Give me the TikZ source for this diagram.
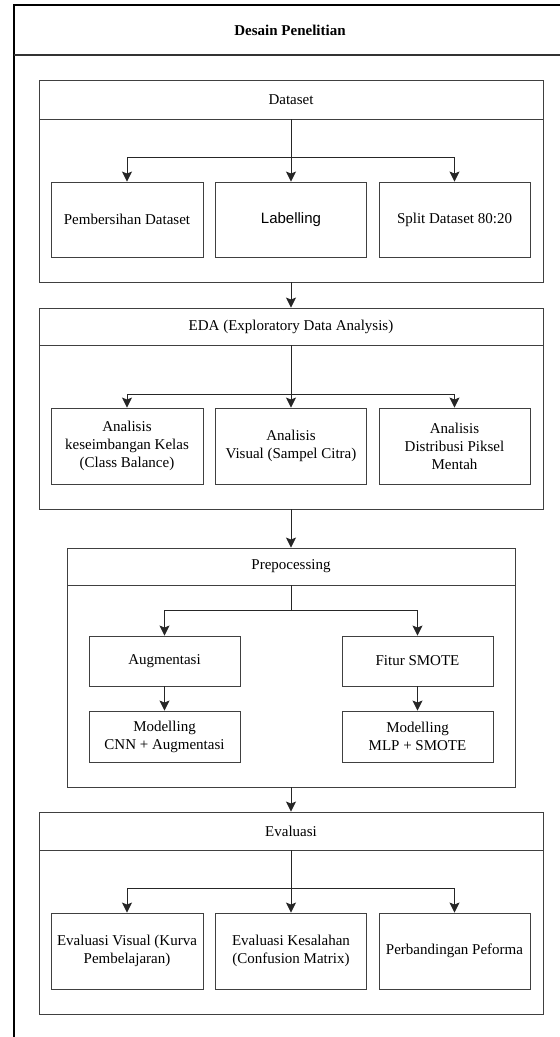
\documentclass[tikz,border=0pt]{standalone}
\usepackage{fontspec}
\setmainfont{Liberation Serif}
\newfontfamily\arialfont{Liberation Sans}
\usetikzlibrary{arrows.meta}
\begin{document}
\begin{tikzpicture}[x=1pt,y=-1pt,
  box/.style={draw=black!75, line width=0.9pt, inner sep=0pt, align=center, font=\fontsize{15}{18}\selectfont},
  arr/.style={draw=black!85, line width=0.9pt, -{Stealth[length=10pt,width=10pt,inset=2pt]}},
  ln/.style={draw=black!85, line width=0.9pt},
  frameline/.style={draw=black, line width=1.2pt}]
\useasboundingbox (0,0) rectangle (560,1037);
% outer frame
\draw[frameline] (560,5) -- (14,5) -- (14,1037);
\draw[frameline, draw=black!80] (14,55) -- (560,55);
\node[font=\fontsize{15}{18}\selectfont\bfseries] (title) at (290,30) {Desain Penelitian};

% Dataset
\node[box, minimum width=504pt, minimum height=39pt] (dsh) at (291,99.5) {Dataset};
\node[box, minimum width=504pt, minimum height=163pt] (dsb) at (291,200.5) {};
\node[box, minimum width=152pt, minimum height=75pt] (ds1) at (127,219.5) {Pembersihan Dataset};
\node[box, minimum width=151pt, minimum height=75pt, font=\fontsize{15}{18}\arialfont] (ds2) at (291,219.5) {Labelling};
\node[box, minimum width=151pt, minimum height=75pt] (ds3) at (454.5,219.5) {Split Dataset 80:20};
\coordinate (dsj) at (291,157);
\draw[arr] (dsh.south) -- (ds2.north);
\draw[arr] (dsj) -| (ds1.north);
\draw[arr] (dsj) -| (ds3.north);

% EDA
\node[box, minimum width=504pt, minimum height=37pt] (edah) at (291,326.5) {EDA (Exploratory Data Analysis)};
\node[box, minimum width=504pt, minimum height=164pt] (edab) at (291,427) {};
\node[box, minimum width=152pt, minimum height=76pt] (eda1) at (127,446) {Analisis\\keseimbangan Kelas\\(Class Balance)};
\node[box, minimum width=151pt, minimum height=76pt] (eda2) at (291,446) {Analisis\\Visual (Sampel Citra)};
\node[box, minimum width=151pt, minimum height=76pt] (eda3) at (454.5,446) {Analisis\\Distribusi Piksel\\Mentah};
\coordinate (edaj) at (291,394);
\draw[arr] (edah.south) -- (eda2.north);
\draw[arr] (edaj) -| (eda1.north);
\draw[arr] (edaj) -| (eda3.north);

% Prepocessing
\node[box, minimum width=448pt, minimum height=37pt] (preh) at (291,566.5) {Prepocessing};
\node[box, minimum width=448pt, minimum height=202pt] (preb) at (291,686) {};
\node[box, minimum width=151pt, minimum height=50pt] (aug) at (164.5,661) {Augmentasi};
\node[box, minimum width=151pt, minimum height=50pt] (smote) at (417.5,661) {Fitur SMOTE};
\node[box, minimum width=151pt, minimum height=51pt] (cnn) at (164.5,736.5) {Modelling\\CNN + Augmentasi};
\node[box, minimum width=151pt, minimum height=51pt] (mlp) at (417.5,736.5) {Modelling\\MLP + SMOTE};
\coordinate (prej) at (291,610);
\draw[ln] (preh.south) -- (prej);
\draw[arr] (prej) -| (aug.north);
\draw[arr] (prej) -| (smote.north);
\draw[arr] (aug.south) -- (cnn.north);
\draw[arr] (smote.south) -- (mlp.north);

% Evaluasi
\node[box, minimum width=504pt, minimum height=38pt] (evh) at (291,831) {Evaluasi};
\node[box, minimum width=504pt, minimum height=164pt] (evb) at (291,932) {};
\node[box, minimum width=152pt, minimum height=76pt] (ev1) at (127,951) {Evaluasi Visual (Kurva\\Pembelajaran)};
\node[box, minimum width=151pt, minimum height=76pt] (ev2) at (291,951) {Evaluasi Kesalahan\\(Confusion Matrix)};
\node[box, minimum width=151pt, minimum height=76pt] (ev3) at (454.5,951) {Perbandingan Peforma};
\coordinate (evj) at (291,888);
\draw[arr] (evh.south) -- (ev2.north);
\draw[arr] (evj) -| (ev1.north);
\draw[arr] (evj) -| (ev3.north);

% connectors between stages
\draw[arr] (dsb.south) -- (edah.north);
\draw[arr] (edab.south) -- (preh.north);
\draw[arr] (preb.south) -- (evh.north);
\end{tikzpicture}
\end{document}
